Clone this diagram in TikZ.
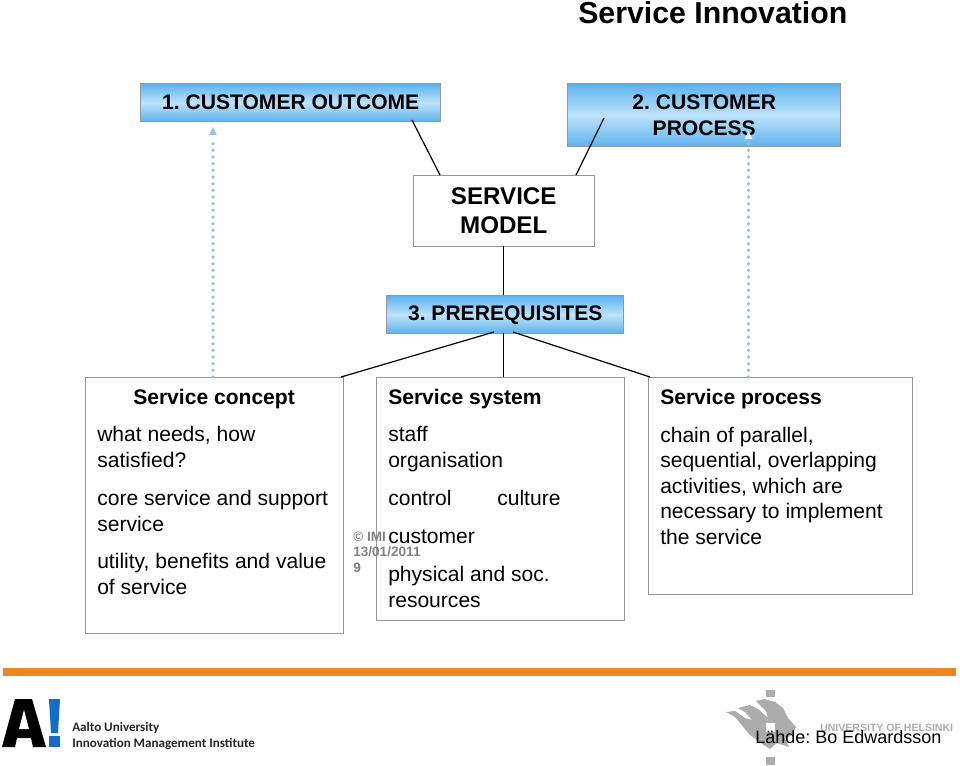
\documentclass[tikz,border=0pt]{standalone}
\usepackage{fontspec}
\setmainfont{Liberation Sans}
\newfontfamily\logofont{Carlito}
\usetikzlibrary{arrows.meta}
\definecolor{headblue}{RGB}{92,178,238}
\definecolor{headlight}{RGB}{190,226,250}
\definecolor{boxgrey}{RGB}{150,150,150}
\definecolor{dotblue}{RGB}{150,196,226}
\definecolor{barorange}{RGB}{238,134,36}
\definecolor{stampgrey}{RGB}{130,130,130}
\definecolor{flamegrey}{RGB}{172,172,172}
\frenchspacing
\tikzset{
    headbox/.style={draw=boxgrey, line width=1.1pt, inner sep=0pt, anchor=north west, align=center,
        top color=headblue, bottom color=headblue, middle color=headlight, shading angle=0,
        font=\fontsize{15.8pt}{19pt}\selectfont\bfseries},
    modelbox/.style={draw=boxgrey, line width=1.1pt, fill=white, inner sep=0pt, anchor=north west, align=center,
        font=\fontsize{18.1pt}{21.8pt}\selectfont\bfseries},
    panelbox/.style={draw=boxgrey, line width=1.1pt, fill=white, inner sep=0pt, anchor=north west},
    paneltitle/.style={inner sep=0pt, anchor=base west, font=\fontsize{15.8pt}{19pt}\selectfont\bfseries},
    paneltext/.style={inner sep=0pt, anchor=base west, align=left, font=\fontsize{15.8pt}{19.1pt}\selectfont},
    linkline/.style={color=black!100, line width=0.9pt},
    dotarrow/.style={color=dotblue, line width=2.8pt, line cap=round, dash pattern=on 0pt off 5pt},
    dotarrowtip/.style={fill=dotblue, draw=none},
    stamp/.style={inner sep=0pt, anchor=base west, align=left, text=stampgrey, font=\fontsize{10.2pt}{11.6pt}\selectfont\bfseries},
}
\begin{document}
\begin{tikzpicture}[x=0.75pt, y=-0.75pt]
    \useasboundingbox (0, 0) rectangle (960, 765);

    \node[inner sep=0pt, anchor=base west, font=\fontsize{22.7pt}{27pt}\selectfont\bfseries] (title) at (578, 23) {Service Innovation};

    \node[panelbox, minimum width=258pt*0.75, minimum height=256pt*0.75] (conceptbox) at (85, 377) {};
    \node[panelbox, minimum width=248pt*0.75, minimum height=243pt*0.75] (systembox) at (376, 377) {};
    \node[panelbox, minimum width=264pt*0.75, minimum height=217pt*0.75] (processbox) at (648, 377) {};

    \node[headbox, minimum width=300pt*0.75, minimum height=38pt*0.75] (outcome) at (140, 83) {1. CUSTOMER OUTCOME};
    \node[headbox, minimum width=273pt*0.75, minimum height=63pt*0.75] (process) at (567, 83) {2. CUSTOMER\\PROCESS};
    \node[headbox, minimum width=237pt*0.75, minimum height=38pt*0.75] (prereq) at (386, 295) {\raisebox{-0.8pt}{3. PREREQUISITES}};
    \node[modelbox, minimum width=181pt*0.75, minimum height=71pt*0.75] (model) at (412.5, 175) {\raisebox{1pt}{SERVICE}\\\raisebox{1pt}{MODEL}};

    \coordinate (outcomefoot) at (412, 120);
    \coordinate (modelleft) at (440, 175);
    \coordinate (processfoot) at (604, 118);
    \coordinate (modelright) at (576, 175);
    \coordinate (prereqleft) at (494, 332);
    \coordinate (prereqright) at (513, 332);
    \coordinate (conceptcorner) at (341, 377);
    \coordinate (processcorner) at (650, 377);
    \coordinate (modelfoot) at (503.5, 246);
    \coordinate (prereqtop) at (503.5, 295);
    \coordinate (prereqfoot) at (503.5, 333);
    \coordinate (systemtop) at (503.5, 377);

    \draw[linkline] (outcomefoot) -- (modelleft);
    \draw[linkline] (processfoot) -- (modelright);
    \draw[linkline] (modelfoot) -- (prereqtop);
    \draw[linkline] (prereqfoot) -- (systemtop);
    \draw[linkline] (prereqleft) -- (conceptcorner);
    \draw[linkline] (prereqright) -- (processcorner);

    \coordinate (conceptarrow) at (213, 377);
    \coordinate (conceptarrowtip) at (213, 127);
    \coordinate (processarrow) at (748.5, 377);
    \coordinate (processarrowtip) at (748.5, 131);

    \draw[dotarrow] (conceptarrow) -- ([yshift=-9pt]conceptarrowtip);
    \fill[dotarrowtip] (conceptarrowtip) -- ++(-4, 8) -- ++(8, 0) -- cycle;
    \draw[dotarrow] (processarrow) -- ([yshift=-9pt]processarrowtip);
    \fill[color=white!70!dotblue] (processarrowtip) -- ++(-4, 8) -- ++(8, 0) -- cycle;

    \node[paneltitle] (concepthead) at (133, 404) {Service concept};
    \node[paneltext] (conceptone) at (97, 467) {what needs, how\\satisfied?};
    \node[paneltext] (concepttwo) at (97, 531) {core service and support\\service};
    \node[paneltext] (conceptthree) at (97, 594) {utility, benefits and value\\of service};

    \node[stamp] (imistamp) at (353, 572) {© IMI\\13/01/2011\\9};

    \node[paneltitle] (systemhead) at (388, 404) {Service system};
    \node[paneltext] (systemone) at (388, 467) {staff\\organisation};
    \node[paneltext] (systemtwo) at (388, 505) {control};
    \node[paneltext] (systemthree) at (497, 505) {culture};
    \node[paneltext] (systemfour) at (388, 543) {customer};
    \node[paneltext] (systemfive) at (388, 607) {physical and soc.\\resources};

    \node[paneltitle] (processhead) at (660, 404) {Service process};
    \node[paneltext] (processone) at (660, 544) {chain of parallel,\\sequential, overlapping\\activities, which are\\necessary to implement\\the service};

    \fill[color=barorange] (3, 668) rectangle (956, 676);

    % logos
    \fill[color=black!100] (2, 747) -- (15, 699) -- (32, 699) -- (46, 747) -- (33, 747) -- (31, 738) -- (17, 738) -- (15, 747) -- cycle;
    \fill[color=white] (19, 729) -- (24, 710) -- (29, 729) -- cycle;
    \fill[color={rgb,255:red,20;green,110;blue,200}] (49, 699) -- (60, 699) -- (58, 733) -- (51, 733) -- cycle;
    \fill[color={rgb,255:red,20;green,110;blue,200}] (49, 736) rectangle (60, 747);
    \node[inner sep=0pt, anchor=base west, font=\logofont\fontsize{9.8pt}{11pt}\selectfont\bfseries, text=black!85] (aaltoname) at (72, 731) {Aalto University};
    \node[inner sep=0pt, anchor=base west, font=\logofont\fontsize{9.8pt}{11pt}\selectfont\bfseries, text=black!85] (aaltounit) at (72, 747) {Innovation Management Institute};

    \fill[color=flamegrey] (766, 690) rectangle (775, 697);
    \fill[color=flamegrey] (766, 757) rectangle (775, 765);
    \fill[color=flamegrey] (726, 712) -- (735, 711) -- (745, 718) -- (752, 720) -- (745, 712) -- (738, 708) -- (750, 705) -- (758, 709) -- (768, 718) -- (766, 711) -- (756, 701) -- (764, 699) -- (775, 702) -- (783, 708) -- (788, 718) -- (796, 727) -- (792, 735) -- (785, 739) -- (789, 747) -- (777, 743) -- (770, 749) -- (762, 744) -- (750, 735) -- (740, 723) -- (735, 717) -- cycle;
    \fill[color=white] (766, 723) rectangle (775, 732);
    \node[inner sep=0pt, anchor=base west, text=flamegrey, font=\fontsize{7.9pt}{9pt}\selectfont\bfseries] (helsinkiname) at (820, 731) {UNIVERSITY OF HELSINKI};
    \node[inner sep=0pt, anchor=base west, font=\fontsize{13.5pt}{16pt}\selectfont] (source) at (755, 743) {Lähde: Bo Edwardsson};
\end{tikzpicture}
\end{document}
